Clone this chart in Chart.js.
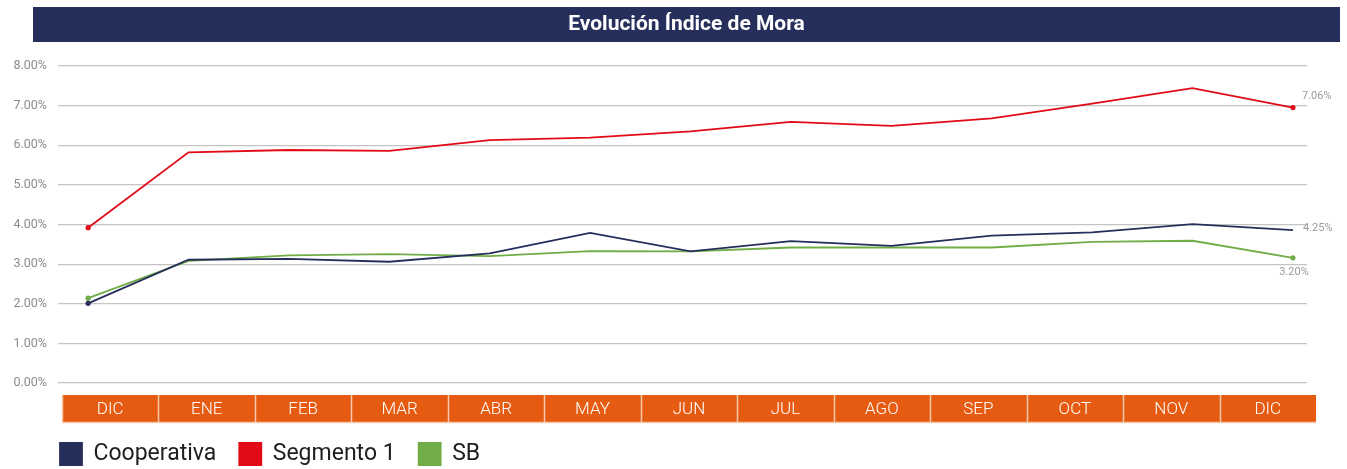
<!DOCTYPE html>
<html><head><meta charset="utf-8">
<script src="https://cdn.jsdelivr.net/npm/chart.js@4.4.1/dist/chart.umd.min.js"></script>
<style>html,body{margin:0;padding:0;background:#fff;}</style>
</head><body>
<canvas id="c" width="1347" height="469"></canvas>
<script>
// ---- data ----
const categories = ['DIC','ENE','FEB','MAR','ABR','MAY','JUN','JUL','AGO','SEP','OCT','NOV','DIC'];
const cooperativa = [2.01, 3.11, 3.13, 3.06, 3.27, 3.79, 3.32, 3.58, 3.46, 3.72, 3.80, 4.01, 3.86];
const segmento1   = [3.92, 5.82, 5.88, 5.86, 6.13, 6.19, 6.35, 6.59, 6.49, 6.68, 7.05, 7.44, 6.95];
const sb          = [2.14, 3.08, 3.22, 3.25, 3.20, 3.33, 3.32, 3.42, 3.42, 3.42, 3.56, 3.59, 3.16];
const seriesNames = ['Cooperativa', 'Segmento 1', 'SB'];
const endLabels   = ['4.25%', '7.06%', '3.20%'];
const yTickValues = [0, 1, 2, 3, 4, 5, 6, 7, 8];
const titleText   = 'Evolución Índice de Mora';

// ---- styles ----
const seriesColors = ['#262F5B', '#E30A17', '#70AD47'];
const markerIdx = [[0], [0, 12], [0, 12]];
const labelOffsets = [
  {dx: 10, dy: -2, align: 'left'},
  {dx: 9, dy: -11, align: 'left'},
  {dx: 1, dy: 14, align: 'center'}
];
const FONT = "Roboto, 'Noto Sans', 'DejaVu Sans', sans-serif";

const seriesValues = [cooperativa, segmento1, sb];

const deco = {
  id: 'deco',
  afterLayout(chart) {
    const t = chart.titleBlock;
    if (t) { t.left = 33; t.right = 1340; t.width = 1307; }
    const l = chart.legend;
    if (l) { l.left = 37; }
  },
  beforeDraw(chart) {
    const ctx = chart.ctx;
    ctx.save();
    ctx.fillStyle = '#fff';
    ctx.fillRect(0, 0, chart.width, chart.height);
    ctx.fillStyle = '#262F5B';
    ctx.fillRect(33, 7, 1307, 35);
    ctx.restore();
  },
  afterDraw(chart) {
    const ctx = chart.ctx;
    const ca = chart.chartArea;
    // orange month band
    const left = ca.left + 4, right = ca.right + 9;
    const top = ca.bottom + 12, h = 27;
    const n = categories.length;
    const w = (right - left) / n;
    ctx.save();
    ctx.fillStyle = '#E65B12';
    ctx.fillRect(left, top, right - left, h);
    ctx.strokeStyle = '#F6C9AC';
    ctx.lineWidth = 1.5;
    for (let i = 1; i < n; i++) {
      const x = Math.round(left + i * w) + 0.5;
      ctx.beginPath(); ctx.moveTo(x, top); ctx.lineTo(x, top + h); ctx.stroke();
    }
    ctx.beginPath(); ctx.moveTo(left + 0.5, top); ctx.lineTo(left + 0.5, top + h); ctx.stroke();
    ctx.beginPath(); ctx.moveTo(left, top + h + 0.5); ctx.lineTo(right, top + h + 0.5); ctx.stroke();
    ctx.fillStyle = '#ffffff';
    ctx.font = "300 17px " + FONT;
    ctx.textAlign = 'center';
    ctx.textBaseline = 'middle';
    categories.forEach((c, i) => {
      ctx.fillText(c, left + (i + 0.5) * w, top + h / 2 + 1);
    });
    // end labels
    ctx.font = "11px " + FONT;
    ctx.fillStyle = '#9a9a9a';
    seriesValues.forEach((vals, di) => {
      const meta = chart.getDatasetMeta(di);
      const pt = meta.data[vals.length - 1];
      const o = labelOffsets[di];
      ctx.textAlign = o.align;
      ctx.fillText(endLabels[di], pt.x + o.dx, pt.y + o.dy);
    });
    ctx.restore();
  }
};

new Chart(document.getElementById('c'), {
  type: 'line',
  data: {
    datasets: seriesValues.map((vals, i) => ({
      label: seriesNames[i],
      data: vals.map((v, k) => ({x: k, y: v})),
      borderColor: seriesColors[i],
      backgroundColor: seriesColors[i],
      borderWidth: 1.8,
      tension: 0,
      pointRadius: (ctx) => markerIdx[ctx.datasetIndex].includes(ctx.dataIndex) ? 2.6 : 0,
      pointBorderWidth: 0,
      pointBackgroundColor: seriesColors[i],
      fill: false
    }))
  },
  options: {
    responsive: false,
    animation: false,
    layout: {padding: {left: 0, right: 40, top: 7, bottom: -6.5}},
    plugins: {
      tooltip: {enabled: false},
      title: {
        display: true,
        text: titleText,
        color: '#ffffff',
        font: {family: FONT, size: 21, weight: 'bold', lineHeight: 1.2},
        padding: {top: 4.9, bottom: 28.9}
      },
      legend: {
        display: true,
        position: 'bottom',
        align: 'start',
        labels: {
          boxWidth: 22, boxHeight: 22, padding: 23,
          color: '#1e1e1e',
          font: {family: FONT, size: 23}
        }
      }
    },
    scales: {
      x: {
        type: 'linear',
        min: -0.30, max: 12.14,
        display: true,
        grid: {display: false},
        border: {display: false},
        ticks: {display: false},
        afterFit: (s) => { s.height = 36.5; }
      },
      y: {
        min: 0, max: 8,
        afterFit: (s) => { s.width = 58; },
        afterBuildTicks: (s) => { s.ticks = yTickValues.map(v => ({value: v})); },
        grid: {color: '#c4c4c4', lineWidth: 1.2, drawTicks: false},
        border: {display: false},
        ticks: {
          padding: 11,
          color: '#8c8c8c',
          font: {family: FONT, size: 12.5},
          callback: (v) => v.toFixed(2) + '%'
        }
      }
    }
  },
  plugins: [deco]
});
</script>
</body></html>
